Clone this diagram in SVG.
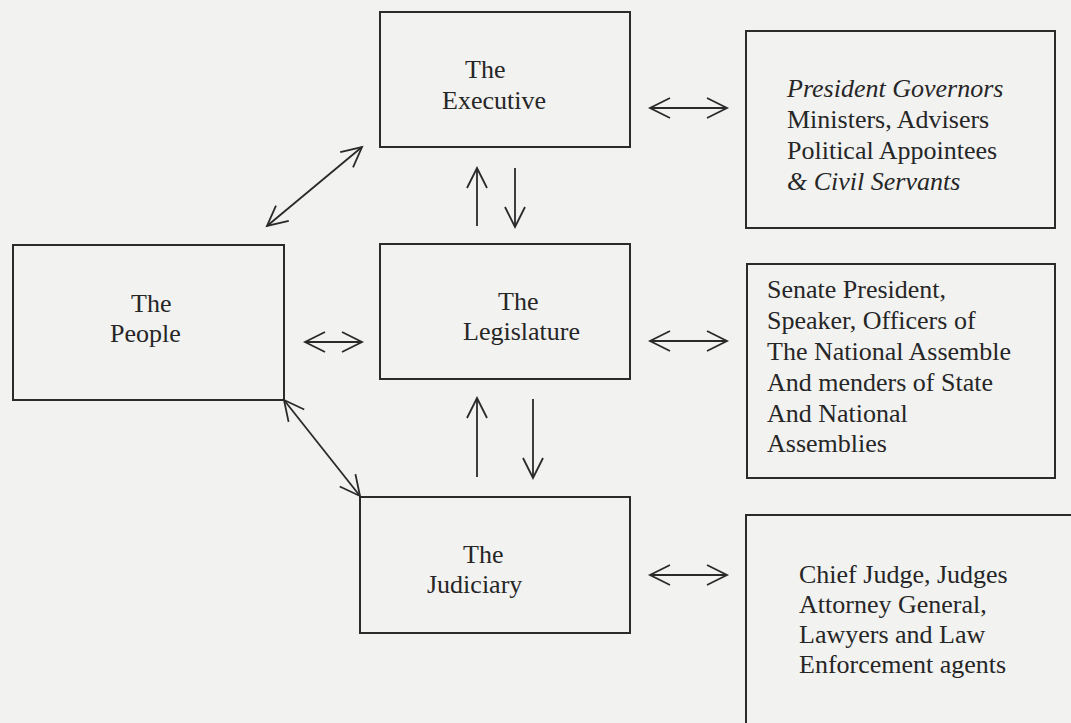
<svg xmlns="http://www.w3.org/2000/svg" width="1071" height="723" viewBox="0 0 1071 723">
  <style>
    .box { fill: none; stroke: #2b2b2b; stroke-width: 2; }
    .t { font-family: "Liberation Serif", "Times New Roman", serif; font-size: 26px; fill: #262626; }
    .it { font-style: italic; }
    .c { fill: none; stroke: #2a2a2a; stroke-width: 1.8; }
  </style>
  <defs>
    <marker id="ah" viewBox="-24 -12 26 24" refX="0" refY="0" markerWidth="26" markerHeight="24" markerUnits="userSpaceOnUse" orient="auto-start-reverse" overflow="visible">
      <path d="M-20,-10 L0,0 L-20,10" fill="none" stroke="#2a2a2a" stroke-width="1.8"/>
    </marker>
  </defs>
  <rect x="0" y="0" width="1071" height="723" fill="#f2f2f1"/>

  <g id="executive">
    <rect class="box" x="380" y="12" width="250" height="135"/>
    <text class="t" x="465" y="78">The</text>
    <text class="t" x="442" y="109">Executive</text>
  </g>
  <g id="executive-members">
    <rect class="box" x="746" y="31" width="309" height="197"/>
    <text class="t" x="787" y="97"><tspan class="it">President Governors</tspan></text>
    <text class="t" x="787" y="128">Ministers, Advisers</text>
    <text class="t" x="787" y="159">Political Appointees</text>
    <text class="t it" x="787" y="190">&amp; Civil Servants</text>
  </g>
  <g id="people">
    <rect class="box" x="13" y="245" width="271" height="155"/>
    <text class="t" x="131" y="312">The</text>
    <text class="t" x="110" y="342">People</text>
  </g>
  <g id="legislature">
    <rect class="box" x="380" y="244" width="250" height="135"/>
    <text class="t" x="498" y="310">The</text>
    <text class="t" x="463" y="340">Legislature</text>
  </g>
  <g id="legislature-members">
    <rect class="box" x="747" y="264" width="308" height="214"/>
    <text class="t" x="767" y="298">Senate President,</text>
    <text class="t" x="767" y="329">Speaker, Officers of</text>
    <text class="t" x="767" y="360">The National Assemble</text>
    <text class="t" x="767" y="391">And menders of State</text>
    <text class="t" x="767" y="422">And National</text>
    <text class="t" x="767" y="452">Assemblies</text>
  </g>
  <g id="judiciary">
    <rect class="box" x="360" y="497" width="270" height="136"/>
    <text class="t" x="463" y="563">The</text>
    <text class="t" x="427" y="593">Judiciary</text>
  </g>
  <g id="judiciary-members">
    <rect class="box" x="746" y="515" width="400" height="300"/>
    <text class="t" x="799" y="583">Chief Judge, Judges</text>
    <text class="t" x="799" y="613">Attorney General,</text>
    <text class="t" x="799" y="643">Lawyers and Law</text>
    <text class="t" x="799" y="673">Enforcement agents</text>
  </g>

  <g id="connectors">
    <line class="c" x1="650" y1="108" x2="727" y2="108" marker-start="url(#ah)" marker-end="url(#ah)"/>
    <line class="c" x1="650" y1="341" x2="727" y2="341" marker-start="url(#ah)" marker-end="url(#ah)"/>
    <line class="c" x1="305" y1="342" x2="362" y2="342" marker-start="url(#ah)" marker-end="url(#ah)"/>
    <line class="c" x1="650" y1="575" x2="727" y2="575" marker-start="url(#ah)" marker-end="url(#ah)"/>
    <line class="c" x1="477" y1="226" x2="477" y2="168" marker-end="url(#ah)"/>
    <line class="c" x1="515" y1="168" x2="515" y2="227" marker-end="url(#ah)"/>
    <line class="c" x1="477" y1="477" x2="477" y2="398" marker-end="url(#ah)"/>
    <line class="c" x1="533" y1="399" x2="533" y2="478" marker-end="url(#ah)"/>
    <line class="c" x1="267" y1="226" x2="362" y2="147" marker-start="url(#ah)" marker-end="url(#ah)"/>
    <line class="c" x1="284" y1="400" x2="360" y2="496" marker-start="url(#ah)" marker-end="url(#ah)"/>
  </g>
</svg>
